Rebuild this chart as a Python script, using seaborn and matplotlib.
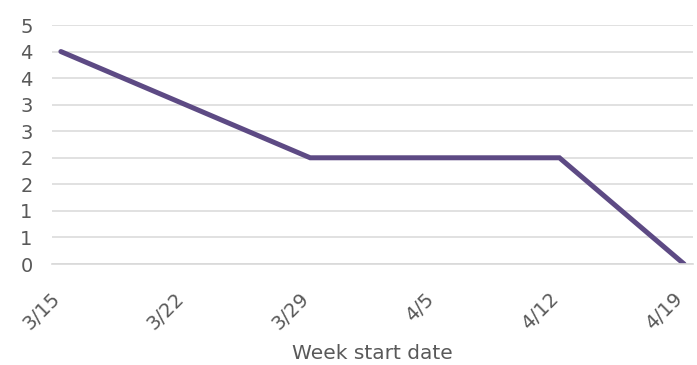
import pandas as pd
import numpy as np
import seaborn as sns
import matplotlib.pyplot as plt
import matplotlib.dates as mdates
from matplotlib.transforms import ScaledTranslation

# data
week_start = ["2021-03-15", "2021-03-29", "2021-04-12", "2021-04-19"]
remaining = [4, 2, 2, 0]
x_ticks = ["2021-03-15", "2021-03-22", "2021-03-29", "2021-04-05", "2021-04-12", "2021-04-19"]
x_labels = ["3/15", "3/22", "3/29", "4/5", "4/12", "4/19"]
y_ticks = [0, 0.5, 1, 1.5, 2, 2.5, 3, 3.5, 4, 4.5]
y_labels = ["0", "1", "1", "2", "2", "3", "3", "4", "4", "5"]

sns.set_style("white")
plt.rcParams['font.family'] = ['DejaVu Sans']

# Excel date axis: each point sits in the middle of its day
df = pd.DataFrame({
    "date": pd.to_datetime(week_start) + pd.Timedelta(hours=12),
    "value": remaining,
})

fig = plt.figure(figsize=(6.97, 3.65), dpi=100)
ax = fig.add_axes([0.0746, 0.2767, 0.9196, 0.6548])

ax.yaxis.grid(True, color="#D9D9D9", linewidth=1.1)
ax.set_axisbelow(True)

sns.lineplot(data=df, x="date", y="value", ax=ax, color="#5D4A84",
             linewidth=3.6, solid_joinstyle="miter")

tick_dates = pd.to_datetime(x_ticks)
ax.set_xlim(mdates.date2num(tick_dates[0]), mdates.date2num(tick_dates[-1]) + 1)
ax.set_ylim(0, 4.5)
ax.set_xticks(mdates.date2num(tick_dates))
ax.set_xticklabels(x_labels, rotation=45, ha="right", va="center", rotation_mode="anchor")
ax.set_yticks(y_ticks)
ax.set_yticklabels(y_labels)

for s in ["top", "right", "left"]:
    ax.spines[s].set_visible(False)
ax.spines["bottom"].set_color("#D9D9D9")
ax.spines["bottom"].set_linewidth(1.2)

ax.tick_params(axis="x", direction="out", length=5, width=1.2, color="#D9D9D9",
               labelsize=14, labelcolor="#595959", pad=18)
ax.tick_params(axis="y", length=0, labelsize=14, labelcolor="#595959", pad=14)

# nudge rotated labels right like Excel does
shift = ScaledTranslation(5 / 100, 0, fig.dpi_scale_trans)
for lbl in ax.get_xticklabels():
    lbl.set_transform(lbl.get_transform() + shift)

ax.set_xlabel("Week start date", fontsize=14.5, color="#595959")
ax.xaxis.set_label_coords(0.5, -0.335)
ax.set_ylabel("")

fig.savefig("out.png", dpi=100)
